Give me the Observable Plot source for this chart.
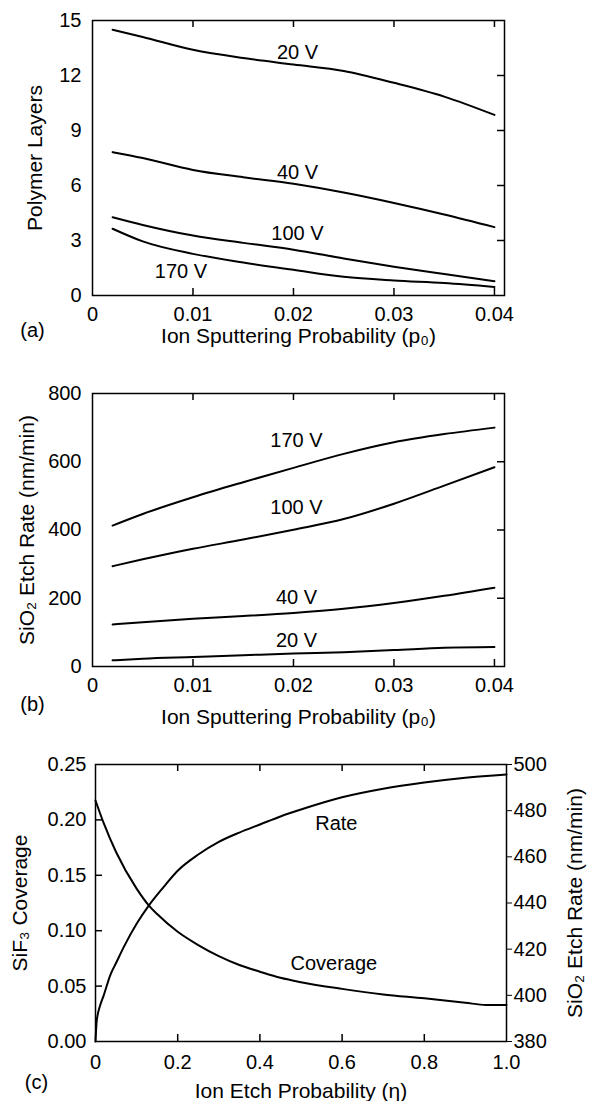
<!DOCTYPE html>
<html><head><meta charset="utf-8">
<script src="https://cdn.jsdelivr.net/npm/d3@7"></script>
<script src="https://cdn.jsdelivr.net/npm/@observablehq/plot@0.6"></script>
<style>
body{margin:0;background:#fff;}
#chart svg{display:block;}
</style></head><body><div id="chart"></div>
<script>
// ---------- Panel (a): Polymer layers vs ion sputtering probability ----------
const pA = [0.002, 0.005, 0.01, 0.015, 0.02, 0.025, 0.03, 0.035, 0.04];
const layers20 = [14.5, 14.1, 13.4, 12.95, 12.6, 12.25, 11.6, 10.85, 9.85];
const layers40 = [7.82, 7.5, 6.85, 6.45, 6.1, 5.62, 5.05, 4.42, 3.73];
const layers100 = [4.27, 3.85, 3.27, 2.87, 2.5, 2.02, 1.57, 1.17, 0.78];
const layers170 = [3.64, 2.95, 2.27, 1.8, 1.4, 1.02, 0.82, 0.68, 0.47];
const seriesA = ["20 V", "40 V", "100 V", "170 V"];
const labelPosA = [[0.0204, 13.26], [0.0204, 6.7], [0.0204, 3.38], [0.0088, 1.31]];
const xTicksA = [0, 0.01, 0.02, 0.03, 0.04];
const yTicksA = [0, 3, 6, 9, 12, 15];

// ---------- Panel (b): SiO2 etch rate vs ion sputtering probability ----------
const pB = [0.002, 0.005, 0.01, 0.015, 0.02, 0.025, 0.03, 0.035, 0.04];
const rate170 = [413, 447, 496, 540, 582, 623, 657, 681, 700];
const rate100 = [294, 314, 345, 372, 401, 432, 477, 530, 584];
const rate40 = [123, 130, 140, 148, 157, 169, 186, 207, 231];
const rate20 = [18, 23, 28, 33, 38, 42, 48, 55, 57];
const seriesB = ["170 V", "100 V", "40 V", "20 V"];
const labelPosB = [[0.0203, 662], [0.0203, 467], [0.0203, 203], [0.0203, 76]];
const xTicksB = [0, 0.01, 0.02, 0.03, 0.04];
const yTicksB = [0, 200, 400, 600, 800];

// ---------- Panel (c): SiF3 coverage & SiO2 etch rate vs ion etch probability ----------
const etaCov = [0, 0.02, 0.05, 0.1, 0.13, 0.15, 0.2, 0.25, 0.3, 0.35, 0.4, 0.45, 0.5, 0.6, 0.7, 0.8, 0.9, 0.95, 1.0];
const coverage = [0.2175, 0.197, 0.171, 0.138, 0.1227, 0.115, 0.099, 0.087, 0.077, 0.069, 0.063, 0.0575, 0.0535, 0.0475, 0.0425, 0.039, 0.035, 0.033, 0.033];
const etaRate = [0, 0.003, 0.012, 0.02, 0.0365, 0.05, 0.069, 0.1, 0.13, 0.166, 0.2, 0.25, 0.3, 0.35, 0.4, 0.45, 0.5, 0.6, 0.7, 0.8, 0.9, 1.0];
const etchRate = [380, 389, 396, 400, 409, 414, 421, 431, 439, 447, 454, 461, 466.5, 470.5, 474, 477.5, 480.5, 485.8, 489.5, 492.2, 494.3, 495.7];
const xTicksC = [0, 0.2, 0.4, 0.6, 0.8, 1.0];
const yTicksCov = [0, 0.05, 0.10, 0.15, 0.20, 0.25];
const yTicksRate = [380, 400, 420, 440, 460, 480, 500];
const rateDomain = [380, 500];
const covDomain = [0, 0.25];
const labelsC = [{eta: 0.586, rate: 474.5, text: "Rate"}, {eta: 0.58, cov: 0.0704, text: "Coverage"}];

const FONT = "'Liberation Sans', Arial, Helvetica, sans-serif";
const W = 589;
const TICK_FS = 20, LABEL_FS = 21;
const fmtP = d => d === 0 ? "0" : d.toFixed(2);

function rows(xs, ys, name) { return xs.map((x, i) => ({x, y: ys[i], s: name})); }

function inwardTicks({xt, yt, fw, fh, len = 7, top = true, bottom = true, left = false, right = false}) {
  const m = [];
  if (bottom) m.push(Plot.ruleX(xt, {x: d => d, insetTop: fh - len, stroke: "black", strokeWidth: 1.5}));
  if (top) m.push(Plot.ruleX(xt, {x: d => d, insetBottom: fh - len, stroke: "black", strokeWidth: 1.5}));
  if (left) m.push(Plot.ruleY(yt, {y: d => d, insetRight: fw - len, stroke: "black", strokeWidth: 1.5}));
  if (right) m.push(Plot.ruleY(yt, {y: d => d, insetLeft: fw - len, stroke: "black", strokeWidth: 1.5}));
  return m;
}

const style = {fontFamily: FONT, fontSize: TICK_FS + "px", color: "black", background: "white", overflow: "visible"};

// Panel (a)
{
  const H = 360, mt = 20, mb = 65, ml = 92, mr = 85;
  const fh = H - mt - mb, fw = W - ml - mr;
  const data = [
    ...rows(pA, layers20, seriesA[0]), ...rows(pA, layers40, seriesA[1]),
    ...rows(pA, layers100, seriesA[2]), ...rows(pA, layers170, seriesA[3])
  ];
  const labs = seriesA.map((s, i) => ({x: labelPosA[i][0], y: labelPosA[i][1], text: s}));
  const svg = Plot.plot({
    width: W, height: H, marginTop: mt, marginBottom: mb, marginLeft: ml, marginRight: mr,
    style,
    x: {domain: [0, 0.041]}, y: {domain: [0, 15]},
    marks: [
      Plot.axisX({ticks: xTicksA, tickSize: 0, tickPadding: 11, tickFormat: fmtP, label: null, fontSize: TICK_FS}),
      Plot.axisY({ticks: yTicksA, tickSize: 0, tickPadding: 11, label: null, fontSize: TICK_FS}),
      ...inwardTicks({xt: xTicksA.slice(1), yt: yTicksA.slice(1, -1), fw, fh, right: true}),
      Plot.line(data, {x: "x", y: "y", z: "s", stroke: "black", strokeWidth: 2, curve: "monotone-x"}),
      Plot.text(labs, {x: "x", y: "y", text: "text", fontSize: TICK_FS, fill: "black"}),
      Plot.frame({stroke: "black", strokeWidth: 1.5}),
      Plot.text(["Ion Sputtering Probability (p₀)"], {text: d => d, frameAnchor: "bottom", dy: 41, lineAnchor: "middle", textAnchor: "middle", fontSize: LABEL_FS}),
      Plot.text(["Polymer Layers"], {text: d => d, frameAnchor: "left", rotate: -90, dx: -57, lineAnchor: "middle", textAnchor: "middle", fontSize: LABEL_FS}),
      Plot.text(["(a)"], {text: d => d, frameAnchor: "bottom-left", dx: -60, dy: 35, lineAnchor: "middle", textAnchor: "middle", fontSize: TICK_FS})
    ]
  });
  document.getElementById("chart").append(svg);
}

// Panel (b)
{
  const H = 370, mt = 33, mb = 64, ml = 92, mr = 85;
  const fh = H - mt - mb, fw = W - ml - mr;
  const data = [
    ...rows(pB, rate170, seriesB[0]), ...rows(pB, rate100, seriesB[1]),
    ...rows(pB, rate40, seriesB[2]), ...rows(pB, rate20, seriesB[3])
  ];
  const labs = seriesB.map((s, i) => ({x: labelPosB[i][0], y: labelPosB[i][1], text: s}));
  const svg = Plot.plot({
    width: W, height: H, marginTop: mt, marginBottom: mb, marginLeft: ml, marginRight: mr,
    style,
    x: {domain: [0, 0.041]}, y: {domain: [0, 800]},
    marks: [
      Plot.axisX({ticks: xTicksB, tickSize: 0, tickPadding: 11, tickFormat: fmtP, label: null, fontSize: TICK_FS}),
      Plot.axisY({ticks: yTicksB, tickSize: 0, tickPadding: 11, tickFormat: d => String(d), label: null, fontSize: TICK_FS}),
      ...inwardTicks({xt: xTicksB.slice(1), yt: yTicksB.slice(1, -1), fw, fh, right: true}),
      Plot.line(data, {x: "x", y: "y", z: "s", stroke: "black", strokeWidth: 2, curve: "monotone-x"}),
      Plot.text(labs, {x: "x", y: "y", text: "text", fontSize: TICK_FS, fill: "black"}),
      Plot.frame({stroke: "black", strokeWidth: 1.5}),
      Plot.text(["Ion Sputtering Probability (p₀)"], {text: d => d, frameAnchor: "bottom", dy: 51, lineAnchor: "middle", textAnchor: "middle", fontSize: LABEL_FS}),
      Plot.text(["SiO₂ Etch Rate (nm/min)"], {text: d => d, frameAnchor: "left", rotate: -90, dx: -65, lineAnchor: "middle", textAnchor: "middle", fontSize: LABEL_FS}),
      Plot.text(["(b)"], {text: d => d, frameAnchor: "bottom-left", dx: -60, dy: 38, lineAnchor: "middle", textAnchor: "middle", fontSize: TICK_FS})
    ]
  });
  document.getElementById("chart").append(svg);
}

// Panel (c)
{
  const H = 371, mt = 34, mb = 60, ml = 95, mr = 83;
  const fh = H - mt - mb, fw = W - ml - mr;
  const toCov = r => (r - rateDomain[0]) / (rateDomain[1] - rateDomain[0]) * (covDomain[1] - covDomain[0]) + covDomain[0];
  const toRate = c => (c - covDomain[0]) / (covDomain[1] - covDomain[0]) * (rateDomain[1] - rateDomain[0]) + rateDomain[0];
  const covData = etaCov.map((x, i) => ({x, y: coverage[i]}));
  const rateData = etaRate.map((x, i) => ({x, y: toCov(etchRate[i])}));
  const labs = labelsC.map(d => ({x: d.eta, y: d.cov !== undefined ? d.cov : toCov(d.rate), text: d.text}));
  const svg = Plot.plot({
    width: W, height: H, marginTop: mt, marginBottom: mb, marginLeft: ml, marginRight: mr,
    style,
    x: {domain: [0, 1.0]}, y: {domain: covDomain},
    marks: [
      Plot.axisX({ticks: xTicksC, tickSize: 0, tickPadding: 13, tickFormat: d => d === 0 ? "0" : d.toFixed(1), label: null, fontSize: TICK_FS}),
      Plot.axisY({ticks: yTicksCov, tickSize: 0, tickPadding: 9, tickFormat: d => d.toFixed(2), label: null, fontSize: TICK_FS}),
      Plot.axisY({ticks: yTicksRate.map(toCov), anchor: "right", tickSize: 5, tickPadding: 2, tickFormat: d => String(Math.round(toRate(d))), label: null, fontSize: TICK_FS}),
      ...inwardTicks({xt: xTicksC.slice(1, -1), yt: yTicksCov.slice(1, -1), fw, fh, left: true}),
      Plot.line(covData, {x: "x", y: "y", stroke: "black", strokeWidth: 2, curve: "monotone-x"}),
      Plot.line(rateData, {x: "x", y: "y", stroke: "black", strokeWidth: 2, curve: "monotone-x"}),
      Plot.text(labs, {x: "x", y: "y", text: "text", fontSize: TICK_FS, fill: "black"}),
      Plot.frame({stroke: "black", strokeWidth: 1.5}),
      Plot.text(["Ion Etch Probability (η)"], {text: d => d, frameAnchor: "bottom", dy: 50, lineAnchor: "middle", textAnchor: "middle", fontSize: LABEL_FS}),
      Plot.text(["SiF₃ Coverage"], {text: d => d, frameAnchor: "left", rotate: -90, dx: -75, lineAnchor: "middle", textAnchor: "middle", fontSize: LABEL_FS}),
      Plot.text(["SiO₂ Etch Rate (nm/min)"], {text: d => d, frameAnchor: "right", rotate: -90, dx: 69, lineAnchor: "middle", textAnchor: "middle", fontSize: LABEL_FS}),
      Plot.text(["(c)"], {text: d => d, frameAnchor: "bottom-left", dx: -59, dy: 41, lineAnchor: "middle", textAnchor: "middle", fontSize: TICK_FS})
    ]
  });
  document.getElementById("chart").append(svg);
}
</script></body></html>
